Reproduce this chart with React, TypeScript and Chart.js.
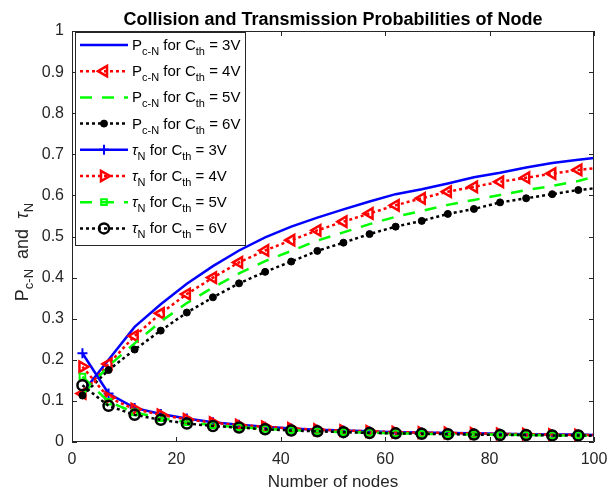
import React, { useEffect, useRef } from 'react';
import { Chart, registerables } from 'chart.js';
import { drawPoint } from 'chart.js/helpers';

Chart.register(...registerables);

// ---------- data ----------
const nodes = [2, 7, 12, 17, 22, 27, 32, 37, 42, 47, 52, 57, 62, 67, 72, 77, 82, 87, 92, 97, 100];

const pcn3V = [0.12, 0.2, 0.28, 0.335, 0.385, 0.428, 0.466, 0.498, 0.524, 0.546, 0.566, 0.585, 0.603, 0.615, 0.629, 0.644, 0.655, 0.668, 0.679, 0.687, 0.691];
const pcn4V = [0.118, 0.19, 0.258, 0.313, 0.36, 0.4, 0.437, 0.466, 0.491, 0.515, 0.536, 0.556, 0.576, 0.593, 0.609, 0.621, 0.633, 0.643, 0.653, 0.662, 0.666];
const pcn5V = [0.115, 0.185, 0.24, 0.293, 0.338, 0.376, 0.41, 0.44, 0.465, 0.49, 0.51, 0.53, 0.548, 0.562, 0.577, 0.589, 0.601, 0.613, 0.623, 0.635, 0.645];
const pcn6V = [0.113, 0.175, 0.225, 0.271, 0.315, 0.352, 0.386, 0.414, 0.439, 0.465, 0.485, 0.506, 0.524, 0.538, 0.555, 0.567, 0.583, 0.593, 0.603, 0.613, 0.617];

const tau3V = [0.216, 0.118, 0.083, 0.068, 0.057, 0.048, 0.042, 0.037, 0.033, 0.030, 0.028, 0.026, 0.024, 0.023, 0.022, 0.021, 0.020, 0.019, 0.018, 0.018, 0.017];
const tau4V = [0.183, 0.108, 0.080, 0.066, 0.055, 0.047, 0.041, 0.037, 0.033, 0.030, 0.028, 0.026, 0.024, 0.023, 0.022, 0.021, 0.020, 0.019, 0.018, 0.017, 0.017];
const tau5V = [0.159, 0.098, 0.072, 0.058, 0.048, 0.041, 0.036, 0.032, 0.029, 0.026, 0.024, 0.023, 0.021, 0.020, 0.019, 0.018, 0.018, 0.017, 0.016, 0.016, 0.015];
const tau6V = [0.138, 0.088, 0.066, 0.054, 0.045, 0.039, 0.035, 0.031, 0.028, 0.026, 0.024, 0.022, 0.021, 0.020, 0.019, 0.018, 0.017, 0.017, 0.016, 0.016, 0.015];

const xTicks = [0, 20, 40, 60, 80, 100];
const yTicks = [0, 0.1, 0.2, 0.3, 0.4, 0.5, 0.6, 0.7, 0.8, 0.9, 1];

const legendSymbols = ['P', 'P', 'P', 'P', 'τ', 'τ', 'τ', 'τ'];
const legendSubs = ['c-N', 'c-N', 'c-N', 'c-N', 'N', 'N', 'N', 'N'];
const thresholds = ['3V', '4V', '5V', '6V', '3V', '4V', '5V', '6V'];

const titleText = 'Collision and Transmission Probabilities of Node';
const xTitle = 'Number of nodes';

// ---------- styles ----------
const FONT = "'Liberation Sans', Arial, Helvetica, sans-serif";
const AXIS = '#262626';
const BLUE = '#0000ff';
const RED = '#ff0000';
const GREEN = '#00ff00';
const BLACK = '#000000';
const DOT = [3, 3];
const DASH = [12, 10];

type Sty = {
  color: string;
  dash: number[];
  style: any;
  rotation: number;
  radius: number;
  bw: number;
  fill: string;
};

const styles: Sty[] = [
  { color: BLUE, dash: [], style: false, rotation: 0, radius: 0, bw: 0, fill: 'rgba(0,0,0,0)' },
  { color: RED, dash: DOT, style: 'triangle', rotation: -90, radius: 6, bw: 2.5, fill: 'rgba(0,0,0,0)' },
  { color: GREEN, dash: DASH, style: false, rotation: 0, radius: 0, bw: 0, fill: 'rgba(0,0,0,0)' },
  { color: BLACK, dash: DOT, style: 'circle', rotation: 0, radius: 3.5, bw: 1, fill: BLACK },
  { color: BLUE, dash: [], style: 'cross', rotation: 0, radius: 5, bw: 2, fill: 'rgba(0,0,0,0)' },
  { color: RED, dash: DOT, style: 'triangle', rotation: 90, radius: 6, bw: 2.5, fill: 'rgba(0,0,0,0)' },
  { color: GREEN, dash: DASH, style: 'rect', rotation: 0, radius: 4, bw: 2, fill: 'rgba(0,0,0,0)' },
  { color: BLACK, dash: DOT, style: 'circle', rotation: 0, radius: 5, bw: 2.5, fill: 'rgba(0,0,0,0)' },
];

const seriesData = [pcn3V, pcn4V, pcn5V, pcn6V, tau3V, tau4V, tau5V, tau6V];

const framePlugin = {
  id: 'frame',
  afterDraw(chart: any) {
    const { ctx, chartArea } = chart;
    const { left, right, top, bottom } = chartArea;
    const xs = chart.scales.x;
    const ys = chart.scales.y;
    ctx.save();
    ctx.strokeStyle = AXIS;
    ctx.lineWidth = 1;
    ctx.setLineDash([]);
    ctx.beginPath();
    ctx.rect(left + 0.5, top + 0.5, right - left - 1, bottom - top - 1);
    ctx.stroke();
    const tl = 5;
    ctx.beginPath();
    xTicks.forEach((v) => {
      const px = Math.round(xs.getPixelForValue(v)) + 0.5;
      ctx.moveTo(px, bottom);
      ctx.lineTo(px, bottom - tl);
      ctx.moveTo(px, top);
      ctx.lineTo(px, top + tl);
    });
    yTicks.forEach((v) => {
      const py = Math.round(ys.getPixelForValue(v)) + 0.5;
      ctx.moveTo(left, py);
      ctx.lineTo(left + tl, py);
      ctx.moveTo(right, py);
      ctx.lineTo(right - tl, py);
    });
    ctx.stroke();

    // title
    ctx.fillStyle = '#000000';
    ctx.font = `bold 18px ${FONT}`;
    ctx.textAlign = 'center';
    ctx.textBaseline = 'middle';
    ctx.fillText(titleText, (left + right) / 2, 20);

    // y axis title with subscripts
    const big = `18px ${FONT}`;
    const small = `13px ${FONT}`;
    const parts: [string, string, number][] = [
      ['P', big, 0],
      ['c-N', small, 5],
      ['  and  ', big, 0],
      ['τ', `italic 18px ${FONT}`, 0],
      ['N', small, 5],
    ];
    let total = 0;
    parts.forEach(([t, f]) => {
      ctx.font = f;
      total += ctx.measureText(t).width;
    });
    const cy = 252;
    ctx.translate(28, cy);
    ctx.rotate(-Math.PI / 2);
    ctx.fillStyle = AXIS;
    ctx.textBaseline = 'alphabetic';
    ctx.textAlign = 'left';
    let x = -total / 2;
    parts.forEach(([t, f, dy]) => {
      ctx.font = f;
      ctx.fillText(t, x, dy);
      x += ctx.measureText(t).width;
    });
    ctx.restore();

    // legend
    ctx.save();
    const bx = 75, by = 32, bw = 170, bh = 213;
    ctx.fillStyle = '#ffffff';
    ctx.fillRect(bx, by, bw, bh);
    ctx.strokeStyle = AXIS;
    ctx.lineWidth = 1;
    ctx.strokeRect(bx + 0.5, by + 0.5, bw, bh);
    legendSymbols.forEach((sym, i) => {
      const st = styles[i];
      const yc = 45 + i * 26.2;
      ctx.save();
      ctx.strokeStyle = st.color;
      ctx.lineWidth = 2.5;
      ctx.setLineDash(st.dash);
      ctx.beginPath();
      ctx.moveTo(80, yc);
      ctx.lineTo(128, yc);
      ctx.stroke();
      ctx.setLineDash([]);
      if (st.style) {
        ctx.fillStyle = st.fill;
        ctx.strokeStyle = st.color;
        ctx.lineWidth = st.bw;
        drawPoint(ctx, { pointStyle: st.style, rotation: st.rotation, radius: st.radius, borderWidth: st.bw } as any, 104, yc);
      }
      ctx.restore();
      ctx.fillStyle = '#000000';
      ctx.textBaseline = 'alphabetic';
      ctx.textAlign = 'left';
      const mainF = i >= 4 ? `italic 15px ${FONT}` : `15px ${FONT}`;
      const nf = `15px ${FONT}`;
      const sf = `11px ${FONT}`;
      let tx = 132;
      const base = yc + 5;
      const seq: [string, string, number][] = [
        [sym, mainF, 0],
        [legendSubs[i], sf, 5],
        [' for C', nf, 0],
        ['th', sf, 5],
        [' = ' + thresholds[i], nf, 0],
      ];
      seq.forEach(([t, f, dy]) => {
        ctx.font = f;
        ctx.fillText(t, tx, base + dy);
        tx += ctx.measureText(t).width;
      });
    });
    ctx.restore();
  },
};

export default function App() {
  const ref = useRef<HTMLCanvasElement>(null);
  useEffect(() => {
    document.body.style.margin = '0';
    const canvas = ref.current;
    if (!canvas) return;
    const datasets = seriesData.map((vals, i) => {
      const st = styles[i];
      const last = vals.length - 1;
      return {
        label: `${legendSymbols[i]} ${legendSubs[i]} ${thresholds[i]}`,
        data: vals.map((v, k) => ({ x: nodes[k], y: v })),
        borderColor: st.color,
        backgroundColor: st.color,
        borderWidth: 2.5,
        borderDash: st.dash,
        borderCapStyle: 'butt',
        pointStyle: st.style || 'circle',
        pointRotation: st.rotation,
        pointRadius: (c: any) => (c.dataIndex === last || !st.style ? 0 : st.radius),
        pointBorderWidth: st.bw,
        pointBorderColor: st.color,
        pointBackgroundColor: st.fill,
        tension: 0,
        fill: false,
        order: 8 - i,
      };
    });
    const chart = new Chart(canvas, {
      type: 'line',
      data: { datasets } as any,
      options: {
        responsive: false,
        animation: false,
        clip: false as any,
        layout: { padding: { left: 0, right: 13, top: 31, bottom: 0 } },
        plugins: {
          legend: { display: false },
          tooltip: { enabled: false },
          title: { display: false },
        },
        scales: {
          x: {
            type: 'linear',
            min: 0,
            max: 100,
            afterBuildTicks: (s: any) => {
              s.ticks = xTicks.map((v) => ({ value: v }));
            },
            afterFit: (s: any) => {
              s.height = 55;
              s.paddingLeft = 0;
              s.paddingRight = 0;
            },
            grid: { display: false, drawTicks: false, tickLength: 0 },
            border: { display: false },
            ticks: {
              color: AXIS,
              font: { family: FONT, size: 16 },
              padding: 8,
              maxRotation: 0,
            },
            title: {
              display: true,
              text: xTitle,
              color: AXIS,
              font: { family: FONT, size: 17 },
              padding: { top: 0, bottom: 4 },
            },
          },
          y: {
            type: 'linear',
            min: 0,
            max: 1,
            afterBuildTicks: (s: any) => {
              s.ticks = yTicks.map((v) => ({ value: v }));
            },
            afterFit: (s: any) => {
              s.width = 72;
              s.paddingTop = 0;
              s.paddingBottom = 0;
            },
            grid: { display: false, drawTicks: false, tickLength: 0 },
            border: { display: false },
            ticks: {
              color: AXIS,
              font: { family: FONT, size: 16 },
              padding: 8,
              callback: (v: any) => String(Math.round(v * 10) / 10),
            },
          },
        },
      },
      plugins: [framePlugin],
    } as any);
    return () => chart.destroy();
  }, []);
  return (
    <div style={{ width: 607, height: 497 }}>
      <canvas ref={ref} width={607} height={497} />
    </div>
  );
}
